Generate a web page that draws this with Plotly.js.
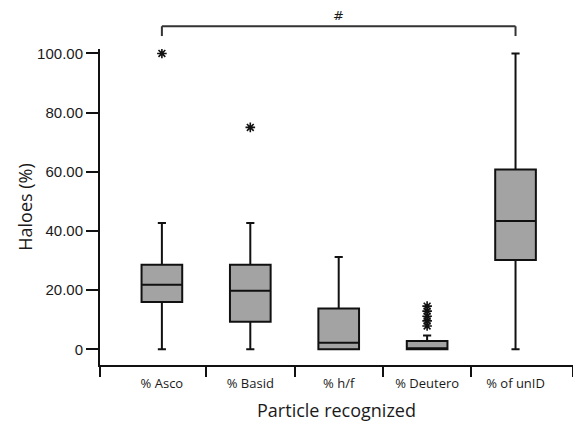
<!DOCTYPE html>
<html>
<head>
<meta charset="utf-8">
<script src="https://cdn.plot.ly/plotly-3.0.1.min.js"></script>
<style>html,body{margin:0;padding:0;background:#fff;}#chart{width:573px;height:426px;}</style>
</head>
<body>
<div id="chart"></div>
<script>
// Categories and box statistics
var categories = ['% Asco', '% Basid', '% h/f', '% Deutero', '% of unID'];
var lowerWhisker = [0, 0, 0, 0, 0];
var q1Values = [16, 9.3, 0, 0, 30.2];
var medianValues = [21.8, 19.8, 2.2, 0, 43.4];
var q3Values = [28.6, 28.6, 13.8, 2.8, 60.8];
var upperWhisker = [42.7, 42.7, 31.2, 4.7, 100];

// Outliers
var outlierCats = ['% Asco', '% Basid', '% Deutero', '% Deutero', '% Deutero', '% Deutero', '% Deutero'];
var outlierVals = [100, 75, 7.9, 9.6, 11.2, 12.9, 14.6];

// Axis tick labels
var yTickVals = [0, 20, 40, 60, 80, 100];
var yTickText = ['0', '20.00', '40.00', '60.00', '80.00', '100.00'];

// Significance bracket between groups
var bracketFrom = '% Asco';
var bracketTo = '% of unID';
var bracketLabel = '#';

var xRange = [-0.7, 4.65];
var boundaryTicks = [-0.7, 0.5, 1.5, 2.5, 3.5, 4.65];

var traces = [
  {
    type: 'box',
    x: categories,
    q1: q1Values,
    median: medianValues,
    q3: q3Values,
    lowerfence: lowerWhisker,
    upperfence: upperWhisker,
    width: 0.46,
    whiskerwidth: 0.2,
    fillcolor: '#a3a3a3',
    line: {color: '#111', width: 2},
    boxpoints: false,
    hoverinfo: 'skip',
    showlegend: false
  },
  {
    type: 'scatter',
    mode: 'markers',
    x: outlierCats,
    y: outlierVals,
    marker: {symbol: 'asterisk-open', size: 8, color: '#111', line: {color: '#111', width: 1.6}},
    showlegend: false,
    hoverinfo: 'skip'
  },
  {
    // empty trace so the boundary-tick axis is drawn
    type: 'scatter',
    mode: 'markers',
    x: [],
    y: [],
    xaxis: 'x2',
    yaxis: 'y',
    showlegend: false,
    hoverinfo: 'skip'
  }
];

var ci0 = categories.indexOf(bracketFrom);
var ci1 = categories.indexOf(bracketTo);

var layout = {
  width: 573,
  height: 426,
  margin: {l: 100, r: 0, t: 49, b: 61},
  paper_bgcolor: '#fff',
  plot_bgcolor: '#fff',
  showlegend: false,
  xaxis: {
    type: 'category',
    range: xRange,
    showgrid: false,
    zeroline: false,
    showline: true,
    linecolor: '#111',
    linewidth: 2,
    ticks: 'outside',
    ticklen: 5,
    tickcolor: 'rgba(0,0,0,0)',
    tickfont: {family: 'Open Sans, sans-serif', size: 13, color: '#1a1a1a'},
    title: {text: 'Particle recognized', font: {family: 'Open Sans, sans-serif', size: 18, color: '#1a1a1a'}, standoff: 14},
    fixedrange: true
  },
  xaxis2: {
    overlaying: 'x',
    anchor: 'y',
    side: 'bottom',
    range: xRange,
    tickmode: 'array',
    tickvals: boundaryTicks,
    showticklabels: false,
    ticks: 'outside',
    ticklen: 11,
    tickwidth: 2,
    tickcolor: '#111',
    showgrid: false,
    zeroline: false,
    showline: false,
    fixedrange: true
  },
  yaxis: {
    range: [-5.3, 101.5],
    tickmode: 'array',
    tickvals: yTickVals,
    ticktext: yTickText,
    showgrid: false,
    zeroline: false,
    showline: true,
    linecolor: '#111',
    linewidth: 2,
    ticks: 'outside',
    ticklen: 12,
    tickwidth: 2,
    tickcolor: '#111',
    tickfont: {family: 'Liberation Sans, Arial, sans-serif', size: 15, color: '#1a1a1a'},
    title: {text: 'Haloes (%)', font: {family: 'Open Sans, sans-serif', size: 18, color: '#1a1a1a'}, standoff: 0},
    fixedrange: true
  },
  shapes: [
    {type: 'line', xref: 'x', yref: 'paper', x0: ci0, x1: ci0, y0: 1.041, y1: 1.072, line: {color: '#333', width: 2}},
    {type: 'line', xref: 'x', yref: 'paper', x0: ci0, x1: ci1, y0: 1.072, y1: 1.072, line: {color: '#333', width: 2}},
    {type: 'line', xref: 'x', yref: 'paper', x0: ci1, x1: ci1, y0: 1.041, y1: 1.072, line: {color: '#333', width: 2}}
  ],
  annotations: [
    {xref: 'x', yref: 'paper', x: (ci0 + ci1) / 2, y: 1.075, yanchor: 'bottom', text: bracketLabel, showarrow: false,
     font: {family: 'DejaVu Sans, sans-serif', size: 13, color: '#1a1a1a'}}
  ]
};

Plotly.newPlot('chart', traces, layout, {displayModeBar: false, staticPlot: true});
</script>
</body>
</html>
